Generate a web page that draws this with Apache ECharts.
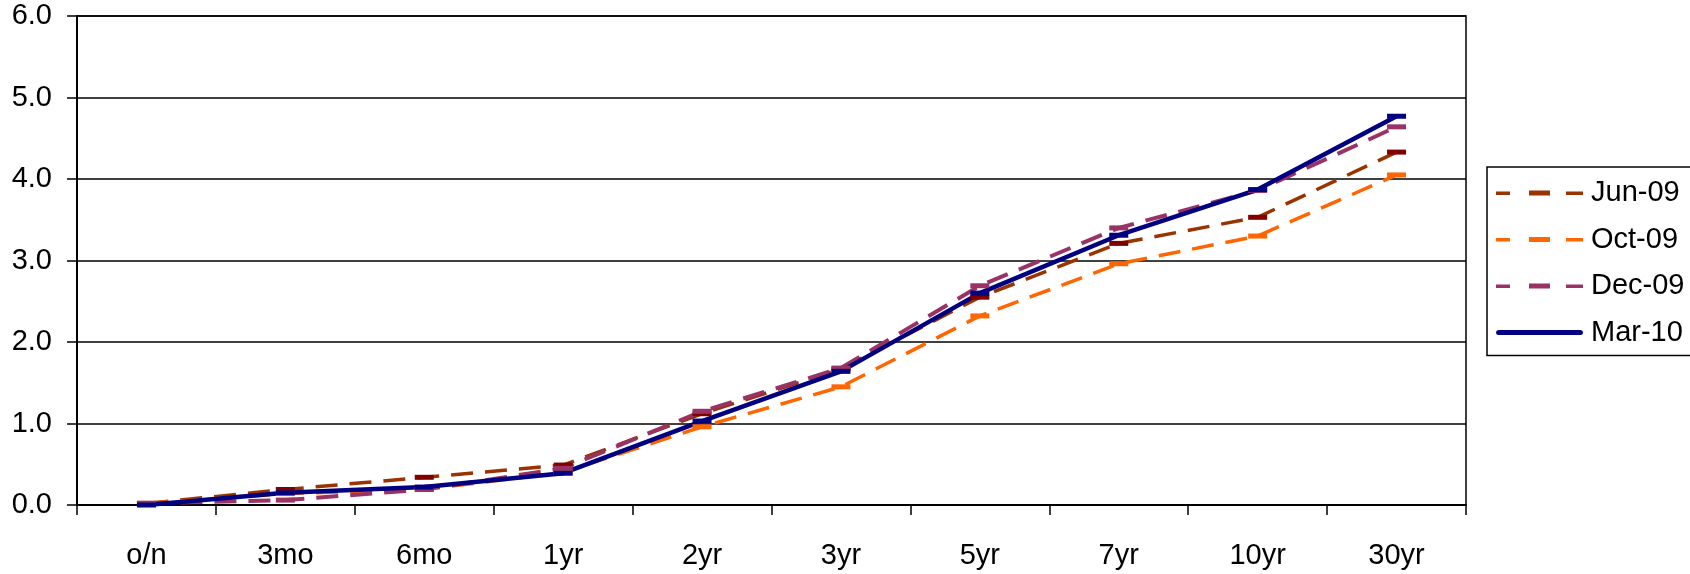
<!DOCTYPE html>
<html>
<head>
<meta charset="utf-8">
<script src="https://cdn.jsdelivr.net/npm/echarts@6/dist/echarts.min.js"></script>
<style>
  html, body { margin: 0; padding: 0; background: #fff; }
  #chart { width: 1690px; height: 574px; }
</style>
</head>
<body>
<div id="chart"></div>
<script>
// Yield curve snapshots by maturity (%)
const maturities = ['o/n', '3mo', '6mo', '1yr', '2yr', '3yr', '5yr', '7yr', '10yr', '30yr'];
const jun09 = [0.02, 0.19, 0.34, 0.49, 1.12, 1.67, 2.55, 3.21, 3.53, 4.33];
const oct09 = [0.02, 0.14, 0.19, 0.40, 0.96, 1.45, 2.32, 2.96, 3.30, 4.05];
const dec09 = [0.02, 0.06, 0.19, 0.45, 1.15, 1.68, 2.69, 3.40, 3.86, 4.64];
const mar10 = [0.00, 0.15, 0.22, 0.39, 1.03, 1.64, 2.60, 3.31, 3.87, 4.77];
const seriesNames = ['Jun-09', 'Oct-09', 'Dec-09', 'Mar-10'];
const yMin = 0, yMax = 6, yStep = 1;

const FONT = '"Liberation Sans", Arial, sans-serif';

// Legend keys: dashed stroke with a bar marker in the middle, or a solid stroke
const DASH_KEY = 'path://M0,1 h14 v3.4 h-14 z M33,0 h21 v5 h-21 z M70,1 h17 v3.4 h-17 z';
const SOLID_KEY = 'path://M2,0 h83 a2.5,2.5 0 0 1 0,5 h-83 a2.5,2.5 0 0 1 0,-5 z';

function curve(name, data, lineColor, markColor, width, dashed) {
  return {
    name: name,
    type: 'line',
    data: data,
    symbol: 'rect',
    symbolSize: [19, 5],
    showSymbol: true,
    animation: false,
    itemStyle: { color: markColor, borderWidth: 0 },
    lineStyle: {
      color: lineColor,
      width: width,
      type: dashed ? [22, 12] : 'solid'
    },
    emphasis: { disabled: true }
  };
}

const chart = echarts.init(document.getElementById('chart'), null, { renderer: 'canvas' });
chart.setOption({
  backgroundColor: '#ffffff',
  animation: false,
  grid: {
    left: 77, right: 224, top: 16, bottom: 69,
    show: true, borderColor: '#000', borderWidth: 1.5, backgroundColor: 'transparent'
  },
  legend: {
    orient: 'vertical',
    left: 1487,
    top: 167,
    padding: [11, 10, 8, 9],
    itemWidth: 87,
    itemHeight: 5,
    itemGap: 16.5,
    symbolKeepAspect: false,
    borderColor: '#000',
    borderWidth: 1.5,
    backgroundColor: '#fff',
    textStyle: { fontFamily: FONT, fontSize: 29, color: '#000', lineHeight: 30, padding: [0, 0, 0, 3] },
    data: [
      { name: seriesNames[0], icon: DASH_KEY, itemStyle: { color: '#993300' } },
      { name: seriesNames[1], icon: DASH_KEY, itemStyle: { color: '#FF6600' } },
      { name: seriesNames[2], icon: DASH_KEY, itemStyle: { color: '#993366' } },
      { name: seriesNames[3], icon: SOLID_KEY, itemStyle: { color: '#000080' } }
    ]
  },
  xAxis: {
    type: 'category',
    data: maturities,
    boundaryGap: true,
    axisLine: { lineStyle: { color: '#000', width: 2 } },
    axisTick: { show: true, length: 10, inside: false, lineStyle: { color: '#000', width: 1.5 } },
    axisLabel: { fontFamily: FONT, fontSize: 29, color: '#000', margin: 36, interval: 0 },
    splitLine: { show: false }
  },
  yAxis: {
    type: 'value',
    min: yMin, max: yMax, interval: yStep,
    axisLine: { show: true, lineStyle: { color: '#000', width: 2 } },
    axisTick: { show: true, length: 10, lineStyle: { color: '#000', width: 1.5 } },
    axisLabel: {
      fontFamily: FONT, fontSize: 29, color: '#000', margin: 25,
      formatter: v => v.toFixed(1)
    },
    splitLine: { show: true, lineStyle: { color: '#000', width: 1.5 } }
  },
  series: [
    curve('Jun-09', jun09, '#993300', '#800000', 3.5, true),
    curve('Oct-09', oct09, '#FF6600', '#FF6600', 3.5, true),
    curve('Dec-09', dec09, '#993366', '#993366', 4, true),
    curve('Mar-10', mar10, '#000080', '#000080', 4.5, false)
  ]
});
</script>
</body>
</html>
